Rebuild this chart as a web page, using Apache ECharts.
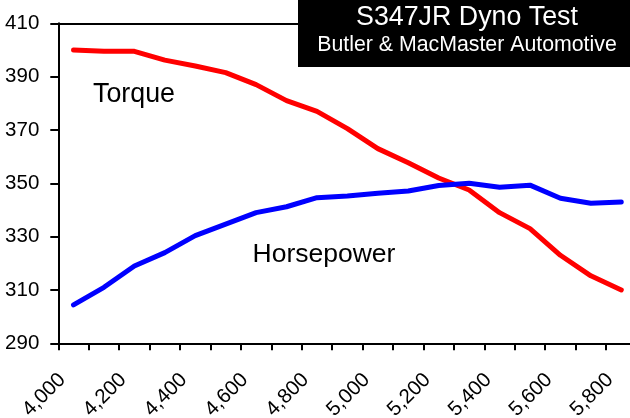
<!DOCTYPE html>
<html>
<head>
<meta charset="utf-8">
<script src="https://cdn.jsdelivr.net/npm/echarts@6/dist/echarts.min.js"></script>
<style>
html,body{margin:0;padding:0;background:#fff;}
#chart{width:630px;height:418px;}
</style>
</head>
<body>
<div id="chart"></div>
<script>
// Engine speed categories (rpm)
var rpm = [4000, 4100, 4200, 4300, 4400, 4500, 4600, 4700, 4800, 4900,
           5000, 5100, 5200, 5300, 5400, 5500, 5600, 5700, 5800];
// Torque values
var torque = [400, 399.5, 399.5, 396.2, 394, 391.5, 387, 381, 377, 370.5,
              363, 357.7, 352, 347.5, 339, 333, 323, 315.3, 310];
// Horsepower values
var horsepower = [304.4, 311, 319, 324, 330.4, 334.7, 339, 341.2, 344.6, 345.2,
                  346.3, 347.1, 349.2, 350, 348.5, 349.3, 344.4, 342.5, 343];
// Y axis ticks
var yMin = 290, yMax = 410, yStep = 20;

var titleText = 'S347JR Dyno Test';
var subTitleText = 'Butler & MacMaster Automotive';

var FONT = '"Liberation Sans", Arial, sans-serif';
var chart = echarts.init(document.getElementById('chart'), null, {renderer: 'canvas'});

var option = {
  animation: false,
  backgroundColor: '#fff',
  grid: {left: 58.3, right: -6.5, top: 23.3, bottom: 74.7, containLabel: false, outerBoundsMode: 'none'},
  xAxis: [{
    type: 'category',
    data: rpm,
    boundaryGap: true,
    position: 'bottom',
    axisLine: {show: true, onZero: false, lineStyle: {color: '#000', width: 2}},
    axisTick: {show: true, interval: 0, length: 7, lineStyle: {color: '#000', width: 2}},
    axisLabel: {
      show: true, interval: 1, rotate: 45, margin: 22,
      showMinLabel: true, showMaxLabel: true, hideOverlap: false,
      padding: [0, 16, 32, 0],
      color: '#000', fontSize: 20.5, fontFamily: FONT,
      formatter: function (v) { return Number(v).toLocaleString('en-US'); }
    },
    splitLine: {show: false}
  }, {
    type: 'category',
    data: rpm,
    position: 'top',
    axisLine: {show: true, onZero: false, lineStyle: {color: '#000', width: 2}},
    axisTick: {show: false},
    axisLabel: {show: false},
    splitLine: {show: false}
  }],
  yAxis: {
    type: 'value',
    min: yMin, max: yMax, interval: yStep,
    axisLine: {show: true, onZero: false, lineStyle: {color: '#000', width: 2}},
    axisTick: {show: true, length: 8, inside: false, lineStyle: {color: '#000', width: 2}},
    axisLabel: {show: true, margin: 19, color: '#000', fontSize: 20.5, fontFamily: FONT},
    splitLine: {show: false}
  },
  title: [{
    text: titleText,
    left: 467, top: 4, padding: 0,
    textAlign: 'center',
    textStyle: {color: '#fff', fontSize: 26.8, fontWeight: 'normal', fontFamily: FONT}
  }, {
    text: subTitleText,
    left: 467, top: 35, padding: 0,
    textAlign: 'center',
    textStyle: {color: '#fff', fontSize: 21.3, fontWeight: 'normal', fontFamily: FONT}
  }],
  graphic: [{
    type: 'rect', z: -1, zlevel: 0,
    shape: {x: 298, y: 0, width: 332, height: 67},
    style: {fill: '#000'}
  }, {
    type: 'text', x: 93, y: 94.5,
    style: {text: 'Torque', fill: '#000', font: '26.8px ' + FONT, verticalAlign: 'middle', align: 'left'}
  }, {
    type: 'text', x: 252.5, y: 255,
    style: {text: 'Horsepower', fill: '#000', font: '26.5px ' + FONT, verticalAlign: 'middle', align: 'left'}
  }],
  series: [{
    name: 'Torque', type: 'line', data: torque,
    symbol: 'none', smooth: false,
    lineStyle: {color: '#ff0000', width: 5, cap: 'round', join: 'round'},
    z: 2
  }, {
    name: 'Horsepower', type: 'line', data: horsepower,
    symbol: 'none', smooth: false,
    lineStyle: {color: '#0000ff', width: 5, cap: 'round', join: 'round'},
    z: 3
  }]
};
chart.setOption(option);
</script>
</body>
</html>
